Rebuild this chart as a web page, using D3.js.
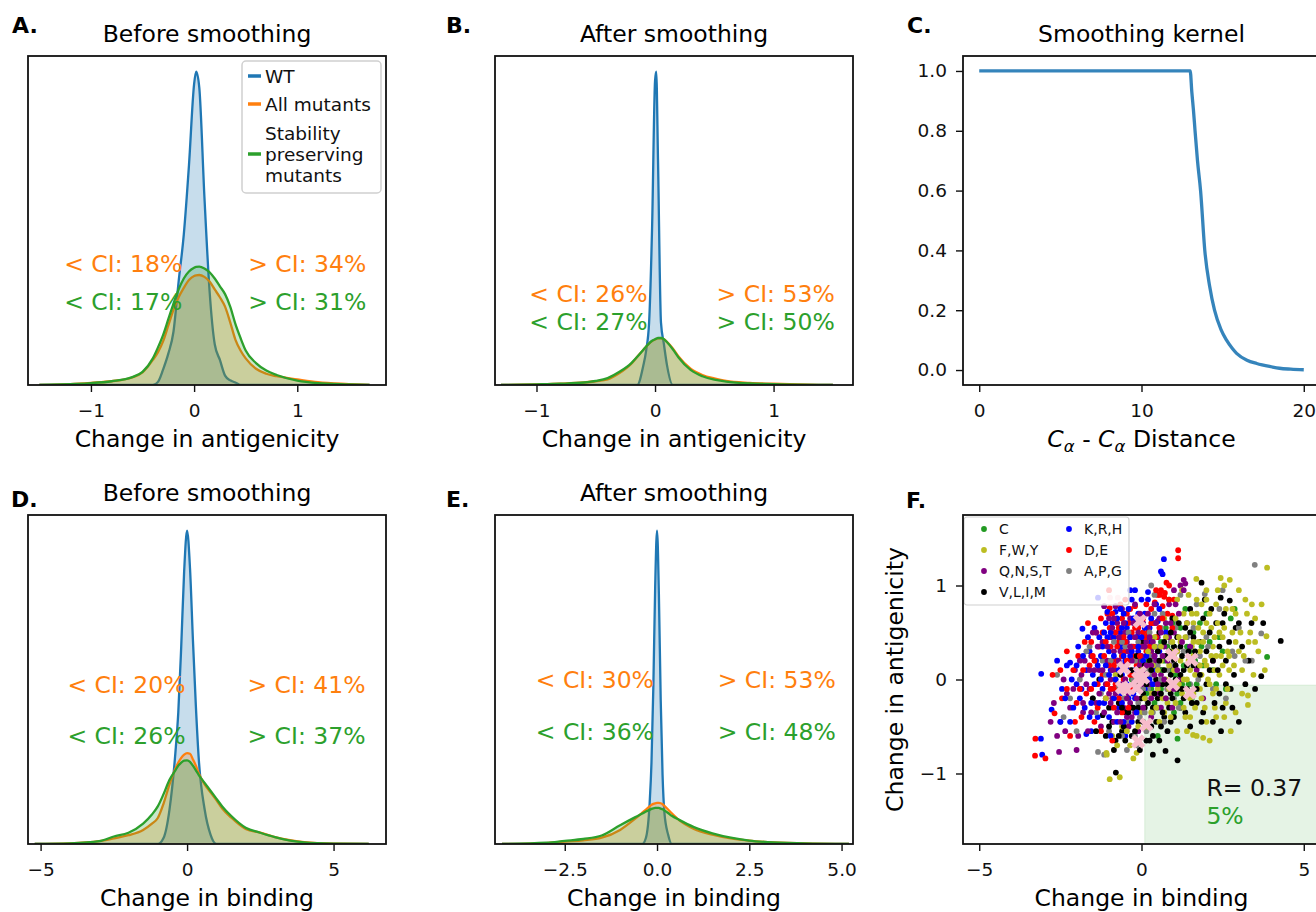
<!DOCTYPE html>
<html>
<head>
<meta charset="utf-8">
<script src="https://cdn.jsdelivr.net/npm/d3@7"></script>
<style>
  body { margin: 0; background: #fff; }
  svg { display: block; }
</style>
</head>
<body>
<div id="wrapper"></div>
<script>
// ---- density curves (WT peak scaled to 1) ----
const aGrid = [-1.5,-1.2,-1.0,-0.8,-0.6,-0.5,-0.4,-0.35,-0.3,-0.25,-0.2,-0.15,-0.1,-0.05,0,0.02,0.05,0.1,0.15,0.2,0.25,0.3,0.35,0.4,0.45,0.5,0.6,0.7,0.8,1.0,1.2,1.5,1.7];
const aWT = [0,0,0,0,0,0,0,0.01,0.05,0.1,0.17,0.33,0.48,0.7,0.96,1.0,0.95,0.6,0.3,0.13,0.08,0.03,0.015,0.008,0,0,0,0,0,0,0,0,0];
const aAll = [0,0.003,0.007,0.012,0.024,0.04,0.08,0.105,0.14,0.19,0.24,0.28,0.31,0.335,0.348,0.35,0.351,0.345,0.33,0.305,0.28,0.25,0.2,0.145,0.11,0.085,0.052,0.036,0.028,0.018,0.009,0.003,0];
const aStable = [0,0.003,0.006,0.012,0.025,0.042,0.085,0.12,0.16,0.21,0.26,0.305,0.34,0.362,0.374,0.377,0.378,0.372,0.36,0.34,0.315,0.29,0.25,0.195,0.15,0.11,0.07,0.046,0.032,0.014,0.006,0.002,0];

const bGrid = [-1.3,-1.0,-0.8,-0.6,-0.5,-0.4,-0.3,-0.2,-0.15,-0.1,-0.075,-0.05,-0.025,0,0.01,0.025,0.05,0.075,0.1,0.15,0.2,0.3,0.4,0.5,0.6,0.8,1.0,1.2,1.5];
const bWT = [0,0,0,0,0,0,0,0,0,0.06,0.11,0.2,0.5,0.97,1.0,0.72,0.2,0.13,0.065,0,0,0,0,0,0,0,0,0,0];
const bAll = [0,0.002,0.004,0.008,0.012,0.018,0.038,0.068,0.09,0.112,0.122,0.132,0.14,0.145,0.147,0.149,0.149,0.146,0.138,0.117,0.09,0.052,0.032,0.021,0.013,0.007,0.004,0.002,0];
const bStable = [0,0.002,0.004,0.008,0.013,0.022,0.042,0.07,0.09,0.112,0.123,0.133,0.141,0.146,0.148,0.15,0.15,0.146,0.137,0.114,0.087,0.048,0.028,0.017,0.011,0.005,0.003,0.001,0];

const dGrid = [-5.2,-4,-3,-2.5,-2,-1.5,-1.2,-1.0,-0.8,-0.6,-0.4,-0.3,-0.2,-0.1,0,0.1,0.2,0.3,0.4,0.6,0.8,1.0,1.2,1.5,2,2.5,3,4,5,6.2];
const dWT = [0,0,0,0,0,0,0,0,0.02,0.11,0.29,0.42,0.63,0.87,1.0,0.88,0.65,0.44,0.27,0.11,0.03,0,0,0,0,0,0,0,0,0];
const dAll = [0,0.002,0.009,0.018,0.028,0.045,0.065,0.083,0.13,0.19,0.24,0.26,0.275,0.285,0.29,0.288,0.27,0.25,0.225,0.19,0.165,0.14,0.113,0.085,0.048,0.036,0.022,0.006,0.001,0];
const dStable = [0,0.002,0.009,0.024,0.036,0.065,0.094,0.12,0.16,0.205,0.235,0.25,0.26,0.266,0.267,0.262,0.25,0.235,0.22,0.195,0.17,0.145,0.12,0.09,0.052,0.036,0.022,0.005,0.001,0];

const eGrid = [-4.2,-3,-2.5,-2,-1.5,-1,-0.6,-0.4,-0.3,-0.2,-0.15,-0.1,-0.05,0,0.05,0.1,0.15,0.2,0.3,0.4,0.6,1,1.5,2,2.5,3,4,5.2];
const eWT = [0,0,0,0,0,0,0,0,0.02,0.13,0.26,0.5,0.82,1.0,0.8,0.46,0.22,0.1,0.03,0,0,0,0,0,0,0,0,0];
const eAll = [0,0.003,0.008,0.012,0.02,0.045,0.08,0.1,0.11,0.12,0.125,0.128,0.13,0.131,0.131,0.13,0.127,0.122,0.11,0.098,0.076,0.048,0.03,0.018,0.011,0.006,0.002,0];
const eStable = [0,0.004,0.01,0.016,0.027,0.06,0.085,0.097,0.104,0.109,0.112,0.114,0.115,0.115,0.115,0.113,0.111,0.107,0.099,0.09,0.077,0.054,0.034,0.02,0.011,0.006,0.002,0];

const seriesNames = ['WT', 'All mutants', 'Stability preserving mutants'];

// CI labels: [orange left, orange right, green left, green right]
const ciA = ['< CI: 18%', '> CI: 34%', '< CI: 17%', '> CI: 31%'];
const ciB = ['< CI: 26%', '> CI: 53%', '< CI: 27%', '> CI: 50%'];
const ciD = ['< CI: 20%', '> CI: 41%', '< CI: 26%', '> CI: 37%'];
const ciE = ['< CI: 30%', '> CI: 53%', '< CI: 36%', '> CI: 48%'];

// ---- smoothing kernel ----
const kernelDist = [0,13,13.1,13.2,13.3,13.45,13.64,13.9,14.2,14.5,14.9,15.24,15.6,15.86,16.5,17.1,18,18.5,19.2,20];
const kernelWeight = [1,1,0.93,0.87,0.8,0.7,0.6,0.4,0.28,0.2,0.135,0.1,0.072,0.056,0.033,0.022,0.011,0.006,0.003,0.001];

// ---- scatter: [change in binding, change in antigenicity] ----
const groupLabels = ['C', 'F,W,Y', 'Q,N,S,T', 'V,L,I,M', 'K,R,H', 'D,E', 'A,P,G'];

const cPts = [[3.87,0.24],[1.11,-0.63],[2.0,0.7],[2.87,0.75],[2.4,0.45],[1.5,0.3],[1.2,0.55],[0.9,0.1],[0.6,0.4],[0.3,-0.1],[0.0,0.2],[-0.3,0.0],[1.7,-0.05],[2.2,0.1],[1.0,-0.35],[0.5,-0.6],[1.35,0.75],[0.75,0.55],[2.6,-0.1],[1.85,0.35],[0.15,0.45],[1.55,-0.2],[0.45,0.15],[-0.6,0.25],[2.75,0.65],[1.25,-0.05],[0.85,0.85],[0.6,-0.1],[0.7,0.2],[1.0,0.35],[1.3,0.15],[0.4,-0.25],[1.6,0.5],[1.9,0.15],[0.2,0.2],[1.1,-0.15],
  [0.3,0.3],[0.55,-0.05],[0.8,0.35],[1.05,0.05],[1.2,-0.25],[1.4,0.35],[1.65,0.2],[1.8,0.6],[2.1,0.4],[2.3,-0.05],[0.95,0.6],[0.15,-0.15],[2.5,0.3],[1.45,-0.05],[0.65,0.1]];

const fwyPts = [[3.87,1.19],[2.44,1.08],[2.72,1.06],[1.69,1.07],[3.85,0.46],[3.28,-0.17],[3.28,-0.27],[-0.98,-1.06],[-0.67,-1.04],[-1.07,-0.8],[-1.08,-0.78],[-0.15,-0.78],[-0.25,-0.84],[1.59,-0.59],[1.9,-0.62],[2.26,-0.3],[2.0,0.95],[2.3,0.8],[2.6,0.75],[2.9,0.7],[3.2,0.85],[3.4,0.8],[3.5,0.65],[3.6,0.3],[3.3,0.4],[3.0,0.3],[2.8,0.5],[2.5,0.45],[2.2,0.35],[1.9,0.5],[1.6,0.6],[1.3,0.7],[1.0,0.55],[2.7,0.1],[2.4,0.05],[2.1,-0.05],[1.8,-0.1],[1.5,0.1],[1.2,0.2],[0.9,0.3],[0.6,0.2],[0.3,-0.15],[0.0,-0.35],[-0.3,-0.45],[-0.6,-0.5],[-0.9,-0.6],[2.9,-0.35],[2.6,-0.25],[2.3,-0.4],[2.0,-0.45],[1.7,-0.6],[1.4,-0.55],[0.8,-0.25],[0.5,-0.1],[1.8,0.3],[2.0,0.15],[2.35,0.6],[2.65,0.3],[3.1,0.1],[3.45,0.05],[1.55,0.35],[1.25,-0.15],[0.95,-0.05],[1.85,0.8],[2.15,0.55],[1.1,0.85],[0.7,0.65],[0.4,0.45],[0.2,0.1],[-0.2,0.05],[-0.5,-0.2],[-0.8,0.05],[-1.1,-0.2],[1.45,0.9],[2.55,1.0],[3.0,0.95],[3.7,0.8],[3.8,0.1],[2.2,-0.15],[1.65,-0.3],[2.75,-0.55],[2.1,-0.65],[1.35,-0.4],[1.95,0.2],[2.45,0.25],[1.0,0.1],[0.55,-0.45],[0.15,-0.5],[-0.35,-0.7],[1.75,0.55],[2.85,0.15],[3.35,0.5],[0.75,0.0],[1.15,0.45],[1.6,-0.15],[2.25,0.1],[0.35,0.15],[0.6,0.35],[0.85,0.15],[1.1,0.3],[1.35,0.45],[1.6,0.25],[1.85,0.05],[1.3,-0.3],[1.05,-0.25],[0.45,-0.3],[0.2,0.3],[1.7,0.7],[2.0,0.6],[1.4,0.0],[1.75,0.4],[2.3,0.25],[0.95,0.4],[1.5,-0.4],[0.7,-0.35],
  [0.5,0.1],[0.65,-0.2],[0.75,0.45],[0.85,-0.1],[1.0,0.25],[1.05,0.65],[1.15,-0.05],[1.2,0.4],[1.3,0.0],[1.4,0.6],[1.45,0.2],[1.5,-0.2],[1.6,0.4],[1.65,0.05],[1.7,0.85],[1.8,0.15],[1.85,-0.2],[1.9,0.4],[2.05,0.0],[2.1,0.7],[2.15,0.25],[2.25,0.45],[2.3,-0.1],[2.4,0.5],[2.5,0.15],[2.55,0.55],[2.65,-0.1],[2.7,0.25],[2.8,0.75],[2.9,0.4],[3.05,0.5],[3.15,0.25],[3.25,0.7],[3.5,0.4],[0.3,-0.35],[0.1,-0.2],[-0.1,-0.5],[-0.45,-0.55],[-0.75,-0.7],[0.0,0.1],[0.4,0.35],[1.25,0.95],[1.55,0.7],[2.0,0.85],[2.35,0.95],[0.9,-0.4],[1.1,-0.55],[1.95,-0.3],[2.55,-0.4],[3.1,-0.15]];

const qnstPts = [[-2.54,-0.77],[-2.5,-0.45],[-2.4,0.0],[-2.2,-0.3],[-2.05,0.1],[-1.95,-0.6],[-1.8,-0.35],[-1.75,0.2],[-1.6,-0.1],[-1.5,0.5],[-1.4,-0.25],[-1.3,0.1],[-1.2,0.4],[-1.1,-0.05],[-1.05,0.2],[-0.95,0.45],[-0.9,-0.2],[-0.8,0.1],[-0.75,0.6],[-0.7,-0.1],[-0.65,0.3],[-0.6,0.75],[-0.55,-0.3],[-0.5,0.15],[-0.45,0.4],[-0.4,-0.15],[-0.35,0.65],[-0.3,0.05],[-0.25,0.35],[-0.2,-0.35],[-0.15,0.2],[-0.1,0.5],[-0.05,-0.1],[0.0,0.25],[0.05,0.6],[0.1,-0.2],[0.15,0.4],[0.2,0.1],[0.25,-0.05],[0.3,0.3],[0.35,0.6],[0.4,-0.15],[0.45,0.2],[0.5,0.45],[0.6,0.05],[0.7,0.35],[0.8,-0.1],[0.9,0.15],[1.0,0.5],[1.1,0.3],[1.2,0.0],[1.3,1.06],[1.2,1.0],[1.35,1.02],[1.0,0.95],[0.85,0.8],[1.4,0.6],[-1.0,0.65],[-1.25,-0.5],[-0.85,-0.45],[-0.4,-0.5],[-0.1,-0.55],[0.3,-0.4],[0.6,-0.3],[-1.55,0.25],[-1.85,0.05],[-2.3,-0.15],[-0.95,0.0],[-0.7,0.2],[-0.5,0.5],[-0.3,0.2],[-0.15,0.0],[0.05,0.35],[0.2,0.55],[-0.6,-0.05],[-0.35,-0.25],[0.55,0.65],[0.75,0.6],[-0.2,0.8],[1.5,0.35],[1.7,0.1],[2.2,0.2],[1.9,-0.2],[-2.7,-0.25],[-2.0,-0.75],[-1.65,-0.55],[0.95,-0.3],[-1.15,0.78],[-0.8,0.78],[0.4,0.8],[-1.2,0.1],[-0.85,0.3],[-0.6,0.45],[-0.4,0.3],[-0.25,-0.05],[-0.05,0.15],[0.1,0.05],[0.25,0.45],[0.4,0.05],[0.55,-0.15],[-0.75,-0.35],[-1.0,-0.15],[-0.45,-0.4],[0.65,0.25],[0.85,0.45],[-0.15,-0.2],[-1.35,0.35],[-0.9,0.55],[0.0,-0.05],[0.3,0.15],
  [-2.8,-0.45],[-2.6,-0.6],[-2.35,-0.55],[-2.1,-0.1],[-1.9,0.2],[-1.7,-0.05],[-1.55,-0.35],[-1.45,0.1],[-1.3,-0.15],[-1.15,-0.35],[-1.05,0.35],[-0.95,-0.25],[-0.85,0.65],[-0.8,-0.15],[-0.7,0.45],[-0.6,0.15],[-0.55,0.6],[-0.45,-0.2],[-0.35,0.35],[-0.3,-0.4],[-0.2,0.45],[-0.1,0.1],[-0.05,0.7],[0.05,-0.3],[0.15,0.15],[0.2,0.7],[0.3,-0.2],[0.35,0.4],[0.45,0.6],[0.5,-0.05],[0.6,0.5],[0.7,0.0],[0.8,0.2],[0.9,0.6],[1.0,-0.1],[1.1,0.1],[1.15,0.7],[1.25,0.4],[0.75,-0.2],[-0.65,-0.45],[-1.4,0.5],[-1.6,0.1],[-0.25,0.6],[0.1,0.35],[-0.5,0.0],[0.4,0.25],[1.3,0.95],[1.05,0.8],[-1.8,-0.25],[-0.9,0.1]];

const vlimPts = [[4.29,0.41],[3.69,0.035],[1.11,-0.86],[0.74,-0.76],[-0.79,-0.99],[1.85,1.03],[2.72,0.84],[2.44,0.87],[3.39,0.6],[2.9,0.55],[2.3,0.6],[2.6,0.2],[2.75,-0.1],[3.0,-0.45],[2.5,-0.3],[2.0,-0.05],[1.8,0.4],[1.5,0.75],[1.3,0.1],[1.2,-0.3],[1.0,0.2],[0.9,-0.15],[0.8,0.45],[0.7,-0.4],[0.6,0.1],[0.5,-0.2],[0.4,0.35],[0.3,-0.5],[0.2,0.0],[0.1,-0.3],[0.0,0.4],[-0.1,-0.45],[-0.2,-0.1],[-0.3,-0.6],[-0.4,0.2],[-0.5,-0.35],[-0.6,-0.55],[-0.7,-0.25],[-0.8,-0.65],[-0.9,-0.45],[-1.0,-0.3],[-1.1,-0.6],[-1.2,-0.38],[-1.3,0.0],[-1.5,-0.2],[0.35,-0.8],[0.15,-0.65],[-0.05,-0.75],[1.5,-0.5],[1.7,-0.25],[2.2,-0.45],[2.8,-0.3],[3.3,0.2],[1.9,0.65],[1.6,0.15],[1.1,0.45],[0.95,0.65],[0.55,0.5],[0.25,0.2],[-0.15,0.25],[1.4,-0.1],[2.4,0.35],[2.1,0.1],[3.1,0.35],[0.65,-0.05],[0.85,-0.3],[1.05,0.0],[1.25,0.25],[0.45,-0.45],[-0.25,-0.3],[0.75,0.25],[1.6,0.45],[2.15,0.75],[-0.45,-0.1],[0.05,-0.15],[1.35,-0.35],[0.55,-0.65],[1.9,-0.35],[2.45,-0.55],[3.5,-0.1],[3.75,0.6],[-0.65,0.05],[-1.4,-0.55],[1.75,0.15],[0.9,0.05],[0.2,-0.25],[0.45,0.0],[0.7,0.1],[0.95,-0.2],[1.2,0.05],[0.0,-0.2],[-0.3,-0.3],[0.35,-0.3],[0.6,-0.5],[0.85,0.3],[1.1,-0.1],[1.45,0.3],[0.1,0.15],[-0.1,-0.05],[0.55,0.2],[1.3,-0.2],[0.8,-0.55],[-0.55,-0.5],[0.25,-0.65],[1.0,0.35],
  [-1.0,-0.5],[-0.85,-0.75],[-0.7,-0.6],[-0.5,-0.65],[-0.4,-0.35],[-0.2,-0.55],[-0.1,-0.3],[0.05,-0.45],[0.15,-0.05],[0.3,0.1],[0.4,-0.15],[0.5,0.3],[0.65,-0.35],[0.7,0.4],[0.8,-0.05],[0.9,0.5],[1.0,-0.4],[1.05,0.15],[1.15,0.6],[1.25,-0.1],[1.4,0.15],[1.5,0.5],[1.55,-0.25],[1.65,0.3],[1.8,0.05],[1.85,-0.45],[2.0,0.3],[2.1,0.5],[2.25,-0.25],[2.35,0.1],[2.5,0.6],[2.6,-0.05],[2.7,0.4],[2.85,0.05],[3.0,0.6],[2.4,-0.15],[1.95,0.85],[2.55,0.7],[0.35,-0.6],[-0.05,0.1],[0.6,-0.15],[1.2,0.35],[0.0,0.05],[-0.3,0.1],[1.7,-0.1],[0.9,-0.45],[2.2,0.2],[1.35,0.55],[3.2,-0.05],[-0.6,-0.3]];

const krhPts = [[-1.34,0.87],[-3.09,0.06],[-2.77,-0.32],[-3.06,-0.8],[-3.1,-0.63],[-2.3,0.15],[-2.2,0.18],[-1.82,0.54],[-2.0,-0.05],[-1.9,-0.2],[-1.7,-0.58],[-1.55,-0.55],[-1.6,0.3],[-1.4,0.2],[-1.3,0.45],[-1.1,0.6],[-1.0,0.3],[-0.9,-0.1],[-0.8,0.72],[-0.65,0.5],[-0.5,0.2],[-0.3,0.85],[-0.2,0.95],[0.0,0.6],[0.2,0.93],[0.2,0.85],[0.45,0.8],[0.5,0.62],[0.65,1.12],[0.6,1.15],[0.69,1.28],[0.3,0.4],[-0.1,0.3],[-0.4,-0.2],[-0.7,-0.3],[-1.2,-0.1],[-1.0,-0.4],[-0.6,0.05],[-0.5,-0.6],[-0.2,-0.2],[0.1,-0.1],[0.4,0.1],[-2.5,-0.45],[-2.45,-0.1],[-1.85,-0.1],[-1.5,0.05],[-1.25,0.25],[-0.95,0.1],[-0.85,0.45],[-0.75,0.2],[-0.6,0.35],[-0.45,0.55],[-0.35,0.25],[-0.15,0.45],[0.05,0.2],[0.25,0.55],[0.55,0.3],[-1.15,-0.25],[-1.35,-0.4],[-0.95,-0.6],[-0.75,-0.45],[-1.45,0.55],[-1.05,0.72],[-0.25,0.65],[0.1,0.7],[-0.55,0.7],[-1.7,0.1],[-2.1,-0.3],[-1.55,-0.25],[0.35,-0.05],[0.75,0.5],[-0.3,-0.45],[-0.05,0.05],[-0.65,-0.15],[1.5,0.35],[0.9,0.25],[-1.05,0.45],[-0.8,0.0],[-0.55,0.25],[-0.35,0.45],[-0.2,0.1],[-0.7,0.35],[-0.45,-0.05],[-1.25,0.0],[-0.1,0.35],[0.15,0.25],[-0.9,0.6],[-0.6,0.55],
  [-2.6,0.2],[-2.35,-0.2],[-2.15,0.0],[-1.95,0.35],[-1.75,-0.3],[-1.65,0.45],[-1.45,-0.05],[-1.35,0.15],[-1.2,0.35],[-1.1,0.15],[-1.0,0.05],[-0.95,0.5],[-0.85,0.25],[-0.75,0.65],[-0.7,0.1],[-0.6,-0.25],[-0.5,0.6],[-0.45,0.1],[-0.4,0.75],[-0.3,0.3],[-0.25,-0.15],[-0.1,0.7],[0.0,0.45],[0.1,0.55],[0.3,0.65],[0.4,0.25],[-0.15,-0.35],[-1.3,-0.25],[-1.6,-0.4],[-2.0,0.15],[-0.55,-0.45],[-0.85,-0.2],[-1.15,0.5],[0.55,0.75],[-0.35,0.95],[0.0,0.85],[-1.8,0.25],[-2.2,-0.45],[-0.65,0.75],[0.25,0.0]];

const dePts = [[1.13,1.375],[1.13,1.29],[0.72,0.92],[0.77,1.03],[0.56,0.9],[0.41,0.82],[-3.28,-0.81],[-2.96,-0.84],[-3.27,-0.63],[-2.74,0.05],[-2.68,-0.36],[-2.45,-0.2],[-2.2,-0.6],[-1.95,0.25],[-1.7,-0.15],[-1.6,0.15],[-1.45,-0.45],[-1.3,0.35],[-1.2,0.05],[-1.05,0.7],[-0.98,0.76],[-0.98,0.55],[-0.9,0.2],[-0.8,-0.05],[-0.7,0.4],[-0.6,0.65],[-0.5,0.3],[-0.4,0.1],[-0.35,0.45],[-0.25,0.25],[-0.1,0.55],[0.0,0.35],[0.2,0.5],[0.3,0.75],[0.5,0.9],[0.6,0.95],[0.7,0.88],[0.65,0.78],[0.85,1.0],[0.8,0.7],[0.95,0.68],[1.0,0.85],[-0.15,0.15],[-0.55,0.0],[-0.85,-0.3],[-1.1,-0.2],[-0.6,-0.35],[-0.3,-0.1],[0.1,0.1],[0.35,0.25],[-1.4,0.5],[-1.55,0.4],[-0.75,0.2],[-0.45,0.7],[-0.2,0.78],[0.05,0.65],[-2.0,-0.25],[-1.85,-0.4],[-1.25,-0.55],[-0.9,-0.65],[-0.4,0.6],[-0.65,0.1],[-1.15,0.25],[0.45,0.45],[0.15,0.3],[-0.05,-0.05],[-1.65,0.6],[-2.3,0.3],[-0.8,0.5],[-1.2,0.5],[-0.95,0.35],[-0.7,0.55],[-0.5,0.4],[-0.3,0.5],[-0.15,0.35],[-0.85,0.15],[-0.6,0.25],[-0.35,0.05],[-1.05,-0.05],[0.3,0.6],[0.1,0.45],
  [-2.5,0.1],[-2.3,-0.1],[-2.1,0.1],[-1.9,-0.1],[-1.75,0.4],[-1.5,0.25],[-1.35,-0.05],[-1.25,0.65],[-1.1,0.4],[-1.0,0.15],[-0.9,0.7],[-0.85,-0.1],[-0.75,0.35],[-0.65,0.8],[-0.55,0.45],[-0.45,0.2],[-0.35,0.75],[-0.25,0.05],[-0.2,0.55],[-0.05,0.25],[0.05,0.5],[0.15,0.8],[0.25,0.35],[0.4,0.6],[0.55,0.55],[0.65,0.65],[0.85,0.85],[0.45,0.95],[-1.55,-0.1],[-1.8,0.1],[-2.05,-0.45],[-1.35,-0.3],[-0.7,-0.2],[-0.4,-0.3],[-1.0,0.95],[-0.5,0.85],[0.95,0.55],[-0.95,-0.1],[-1.45,0.2],[-0.3,0.35]];

const apgPts = [[3.49,1.22],[3.69,0.49],[2.87,0.25],[1.95,0.91],[-1.34,-0.77],[-1.15,-0.8],[-2.0,-0.55],[-2.4,-0.4],[-2.6,0.05],[-1.9,0.0],[-1.5,-0.2],[-1.2,0.2],[-0.9,-0.3],[-0.7,0.55],[-0.5,-0.05],[-0.3,0.35],[-0.1,-0.25],[0.0,0.15],[0.1,0.45],[0.2,-0.1],[0.3,1.0],[0.35,0.2],[0.5,-0.3],[0.6,0.55],[0.8,0.1],[1.0,-0.2],[1.1,0.6],[1.3,0.3],[1.5,-0.05],[1.7,0.8],[1.8,0.25],[2.0,0.45],[2.2,-0.1],[2.5,0.95],[2.8,0.3],[3.0,0.55],[3.4,0.2],[-0.8,0.0],[-0.4,-0.45],[0.15,-0.55],[-1.0,-0.55],[-0.6,-0.6],[0.7,-0.45],[-0.2,0.6],[0.4,0.7],[1.2,0.9],[0.9,0.4],[-0.05,-0.4],[-1.6,0.35],[0.45,-0.05],[-0.35,0.1],[1.6,0.55],[0.25,0.25],[-0.15,-0.7],[-0.45,-0.75],[2.6,-0.2],[3.2,0.2],[-0.65,0.15],[-0.2,0.2],[0.05,-0.1],[0.3,0.05],[0.55,0.35],[-0.5,0.35],[0.75,-0.2],[-0.95,0.2],[1.0,0.15],[-0.3,-0.15],
  [-2.2,-0.2],[-1.7,0.3],[-1.4,-0.35],[-1.1,0.05],[-0.85,0.4],[-0.75,-0.1],[-0.55,-0.2],[-0.4,0.5],[-0.25,0.0],[-0.1,0.4],[0.0,-0.2],[0.15,0.1],[0.25,0.5],[0.35,-0.35],[0.5,0.15],[0.65,0.7],[0.8,-0.1],[0.95,0.25],[1.15,-0.3],[1.4,0.45],[1.75,0.0],[2.05,0.35],[-0.6,0.4],[-0.2,-0.6],[0.1,-0.35],[0.6,0.0],[1.05,0.55],[-1.25,-0.15],[2.4,0.75],[0.4,0.9]];

// highlighted sites (pink) and the two pink dots under the legend
const pinkCrosses = [[-0.54,0.12],[-0.6,-0.085],[-0.1,0.01],[0.05,0.02],[-0.15,-0.09],[0.15,-0.48],[-0.1,-0.66],[0.94,0.26],[1.54,0.21],[0.97,-0.05],[1.49,-0.14],[-0.46,-0.1],[-0.05,0.62],[-0.05,0.07]];
const pinkDots = [[-0.97,0.87],[-0.73,0.87]];

const quadrantBinding = 0.1;
const quadrantAntigenicity = -0.06;
const rLabel = 'R= 0.37';
const quadrantPct = '5%';

// ---- layout ----
const seriesColors = ['#1f77b4', '#ff7f0e', '#2ca02c'];
const groupColors = ['#229a22', '#bcbd22', '#800080', '#000000', '#0000ff', '#ff0000', '#808080'];
const font = "'DejaVu Sans', 'Liberation Sans', sans-serif";

const layout = {
  A: { x: 28, y: 56, w: 358, h: 329 },
  B: { x: 495, y: 56, w: 358, h: 329 },
  C: { x: 963, y: 56, w: 357, h: 329 },
  D: { x: 28, y: 515, w: 358, h: 329 },
  E: { x: 495, y: 515, w: 358, h: 329 },
  F: { x: 963, y: 515, w: 357, h: 329 }
};

const svg = d3.select('#wrapper')
  .append('svg')
    .attr('width', 1316)
    .attr('height', 912)
    .style('font-family', font);

function panelFrame(key, letterPos, title, xLabel) {
  const box = layout[key];
  const g = svg.append('g')
      .attr('transform', `translate(${box.x},${box.y})`);

  svg.append('text')
      .attr('x', letterPos[0])
      .attr('y', letterPos[1])
      .style('font-size', '22px')
      .style('font-weight', 'bold')
      .text(key + '.');

  if (title) {
    g.append('text')
        .attr('x', box.w / 2)
        .attr('y', -14)
        .attr('text-anchor', 'middle')
        .style('font-size', '23.5px')
        .text(title);
  }

  const label = g.append('text')
      .attr('x', box.w / 2)
      .attr('y', box.h + 62)
      .attr('text-anchor', 'middle')
      .style('font-size', '23.5px');
  if (typeof xLabel === 'function') xLabel(label);
  else label.text(xLabel);

  g.append('clipPath')
      .attr('id', 'clip-' + key)
    .append('rect')
      .attr('width', box.w)
      .attr('height', box.h);

  return g;
}

function bottomAxis(g, box, scale, ticks, fmt) {
  g.append('g')
      .attr('transform', `translate(0,${box.h})`)
      .call(d3.axisBottom(scale).tickValues(ticks).tickSize(7).tickPadding(11.5).tickFormat(fmt))
      .call(a => a.select('.domain').remove())
      .call(a => a.selectAll('line').attr('stroke', '#111').attr('stroke-width', 1.4))
      .call(a => a.selectAll('text').attr('fill', '#111').style('font-size', '18.5px').style('font-family', font));
}

function leftAxis(g, scale, ticks, fmt) {
  g.append('g')
      .call(d3.axisLeft(scale).tickValues(ticks).tickSize(7).tickPadding(9).tickFormat(fmt))
      .call(a => a.select('.domain').remove())
      .call(a => a.selectAll('line').attr('stroke', '#111').attr('stroke-width', 1.4))
      .call(a => a.selectAll('text').attr('fill', '#111').style('font-size', '18.5px').style('font-family', font));
}

function spines(g, box) {
  g.append('rect')
      .attr('width', box.w)
      .attr('height', box.h)
      .attr('fill', 'none')
      .attr('stroke', '#111')
      .attr('stroke-width', 1.8);
}

function drawKdePanel(key, opts) {
  const box = layout[key];
  const g = panelFrame(key, opts.letterPos, opts.title, opts.xLabel);

  const xScale = d3.scaleLinear().domain(opts.xDomain).range([0, box.w]);
  const yScale = d3.scaleLinear().domain([0, 1.05]).range([box.h, 0]);

  const plot = g.append('g').attr('clip-path', `url(#clip-${key})`);
  opts.series.forEach((values, i) => {
    const pts = opts.grid.map((x, j) => [x, values[j]]);
    const area = d3.area()
        .x(d => xScale(d[0]))
        .y0(yScale(0))
        .y1(d => yScale(d[1]))
        .curve(d3.curveMonotoneX);
    const line = d3.line()
        .x(d => xScale(d[0]))
        .y(d => yScale(d[1]))
        .curve(d3.curveMonotoneX);
    plot.append('path')
        .attr('d', area(pts))
        .attr('fill', seriesColors[i])
        .attr('fill-opacity', 0.25);
    plot.append('path')
        .attr('d', line(pts))
        .attr('fill', 'none')
        .attr('stroke', seriesColors[i])
        .attr('stroke-width', 2.3);
  });

  // CI percentages: orange row then green row
  opts.ci.forEach((txt, i) => {
    const row = Math.floor(i / 2);
    const col = i % 2;
    g.append('text')
        .attr('x', opts.ciX[col] * box.w)
        .attr('y', box.h - opts.ciY[row] * box.h)
        .attr('fill', seriesColors[row + 1])
        .style('font-size', '23.5px')
        .text(txt);
  });

  bottomAxis(g, box, xScale, opts.ticks, opts.fmt || d3.format('d'));

  if (opts.legend) {
    const lg = g.append('g').attr('transform', 'translate(214,5)');
    lg.append('rect')
        .attr('width', 139)
        .attr('height', 132)
        .attr('rx', 4)
        .attr('fill', '#fff')
        .attr('fill-opacity', 0.8)
        .attr('stroke', '#d0d0d0')
        .attr('stroke-width', 1.5);
    const rows = [15, 43, 93];
    seriesNames.forEach((name, i) => {
      lg.append('line')
          .attr('x1', 6).attr('x2', 19)
          .attr('y1', rows[i]).attr('y2', rows[i])
          .attr('stroke', seriesColors[i])
          .attr('stroke-width', 3.5);
      const words = i === 2 ? ['Stability', 'preserving', 'mutants'] : [name];
      const t = lg.append('text')
          .style('font-size', '18.5px')
          .attr('fill', '#111');
      words.forEach((w, k) => {
        t.append('tspan')
            .attr('x', 23)
            .attr('y', rows[i] + 6.5 + (k - (words.length - 1) / 2) * 21)
            .text(w);
      });
    });
  }

  spines(g, box);
}

drawKdePanel('A', {
  letterPos: [12, 33], title: 'Before smoothing', xLabel: 'Change in antigenicity',
  xDomain: [-1.61, 1.86], ticks: [-1, 0, 1],
  grid: aGrid, series: [aWT, aAll, aStable],
  ci: ciA, ciX: [0.101, 0.615], ciY: [0.344, 0.228], legend: true
});

drawKdePanel('B', {
  letterPos: [446, 33], title: 'After smoothing', xLabel: 'Change in antigenicity',
  xDomain: [-1.35, 1.67], ticks: [-1, 0, 1],
  grid: bGrid, series: [bWT, bAll, bStable],
  ci: ciB, ciX: [0.096, 0.619], ciY: [0.253, 0.167]
});

drawKdePanel('D', {
  letterPos: [11, 507], title: 'Before smoothing', xLabel: 'Change in binding',
  xDomain: [-5.43, 6.79], ticks: [-5, 0, 5],
  grid: dGrid, series: [dWT, dAll, dStable],
  ci: ciD, ciX: [0.11, 0.613], ciY: [0.458, 0.304]
});

drawKdePanel('E', {
  letterPos: [446, 507], title: 'After smoothing', xLabel: 'Change in binding',
  xDomain: [-4.39, 5.31], ticks: [-2.5, 0, 2.5, 5], fmt: d3.format('.1f'),
  grid: eGrid, series: [eWT, eAll, eStable],
  ci: ciE, ciX: [0.114, 0.622], ciY: [0.473, 0.316]
});

// ---- C: smoothing kernel ----
function drawKernel() {
  const box = layout.C;
  const g = panelFrame('C', [907, 33], 'Smoothing kernel', t => {
    t.append('tspan').style('font-style', 'italic').text('C');
    t.append('tspan').style('font-style', 'italic').style('font-size', '16.5px').attr('dy', 5).text('α');
    t.append('tspan').attr('dy', -5).text(' - ');
    t.append('tspan').style('font-style', 'italic').text('C');
    t.append('tspan').style('font-style', 'italic').style('font-size', '16.5px').attr('dy', 5).text('α');
    t.append('tspan').attr('dy', -5).text(' Distance');
  });

  const xScale = d3.scaleLinear().domain([-1, 21]).range([0, box.w]);
  const yScale = d3.scaleLinear().domain([-0.05, 1.05]).range([box.h, 0]);

  const line = d3.line()
      .x((d, i) => xScale(kernelDist[i]))
      .y(d => yScale(d))
      .curve(d3.curveMonotoneX);

  g.append('path')
      .attr('d', line(kernelWeight))
      .attr('fill', 'none')
      .attr('stroke', '#1f77b4')
      .attr('stroke-width', 3.3)
      .attr('stroke-opacity', 0.9);

  bottomAxis(g, box, xScale, [0, 10, 20], d3.format('d'));
  leftAxis(g, yScale, [0, 0.2, 0.4, 0.6, 0.8, 1.0], d3.format('.1f'));
  spines(g, box);
}
drawKernel();

// ---- F: binding vs antigenicity scatter ----
function drawScatter() {
  const box = layout.F;
  const g = panelFrame('F', [906, 508], null, 'Change in binding');

  const xScale = d3.scaleLinear().domain([-5.5, 5.5]).range([0, box.w]);
  const yScale = d3.scaleLinear().domain([-1.75, 1.75]).range([box.h, 0]);

  const plot = g.append('g').attr('clip-path', 'url(#clip-F)');

  plot.append('rect')
      .attr('x', xScale(quadrantBinding))
      .attr('y', yScale(quadrantAntigenicity))
      .attr('width', box.w - xScale(quadrantBinding))
      .attr('height', box.h - yScale(quadrantAntigenicity))
      .attr('fill', '#2ca02c')
      .attr('fill-opacity', 0.12)
      .attr('stroke', '#2ca02c')
      .attr('stroke-opacity', 0.12);

  // interleave the groups so no single colour sits on top
  const groups = [cPts, fwyPts, qnstPts, vlimPts, krhPts, dePts, apgPts];
  const maxLen = d3.max(groups, d => d.length);
  const ordered = [];
  for (let i = 0; i < maxLen; i++) {
    groups.forEach((pts, k) => { if (pts[i]) ordered.push({ p: pts[i], k }); });
  }

  plot.selectAll('circle.pt')
    .data(ordered)
    .join('circle')
      .attr('class', 'pt')
      .attr('cx', d => xScale(d.p[0]))
      .attr('cy', d => yScale(d.p[1]))
      .attr('r', 2.9)
      .attr('fill', d => groupColors[d.k]);

  plot.selectAll('circle.pink')
    .data(pinkDots)
    .join('circle')
      .attr('class', 'pink')
      .attr('cx', d => xScale(d[0]))
      .attr('cy', d => yScale(d[1]))
      .attr('r', 2.9)
      .attr('fill', '#ffc0cb');

  const cross = d3.symbol().type(d3.symbolCross).size(130);
  plot.selectAll('path.cross')
    .data(pinkCrosses)
    .join('path')
      .attr('class', 'cross')
      .attr('d', cross)
      .attr('transform', d => `translate(${xScale(d[0])},${yScale(d[1])}) rotate(45)`)
      .attr('fill', '#f7bccb');

  // correlation and share of points in the shaded quadrant
  g.append('text')
      .attr('x', xScale(2.0))
      .attr('y', yScale(-1.24))
      .style('font-size', '23.5px')
      .attr('fill', '#111')
      .text(rLabel);
  g.append('text')
      .attr('x', xScale(2.0))
      .attr('y', yScale(-1.54))
      .style('font-size', '23.5px')
      .attr('fill', '#2ca02c')
      .text(quadrantPct);

  // legend, two columns filled top-down
  const lg = g.append('g').attr('transform', 'translate(1,2)');
  lg.append('rect')
      .attr('width', 165)
      .attr('height', 88)
      .attr('rx', 3)
      .attr('fill', '#fff')
      .attr('fill-opacity', 0.8)
      .attr('stroke', '#d0d0d0')
      .attr('stroke-width', 1.2);
  groupLabels.forEach((name, i) => {
    const col = i < 4 ? 0 : 1;
    const row = i < 4 ? i : i - 4;
    const cy = 12 + row * 21;
    lg.append('circle')
        .attr('cx', 20 + col * 85)
        .attr('cy', cy)
        .attr('r', 2.9)
        .attr('fill', groupColors[i]);
    lg.append('text')
        .attr('x', 35 + col * 85)
        .attr('y', cy + 5)
        .style('font-size', '14px')
        .attr('fill', '#111')
        .text(name);
  });

  bottomAxis(g, box, xScale, [-5, 0, 5], d3.format('d'));
  leftAxis(g, yScale, [-1, 0, 1], d3.format('d'));

  g.append('text')
      .attr('transform', `translate(-60,${box.h / 2}) rotate(-90)`)
      .attr('text-anchor', 'middle')
      .style('font-size', '23.5px')
      .text('Change in antigenicity');

  spines(g, box);
}
drawScatter();
</script>
</body>
</html>
